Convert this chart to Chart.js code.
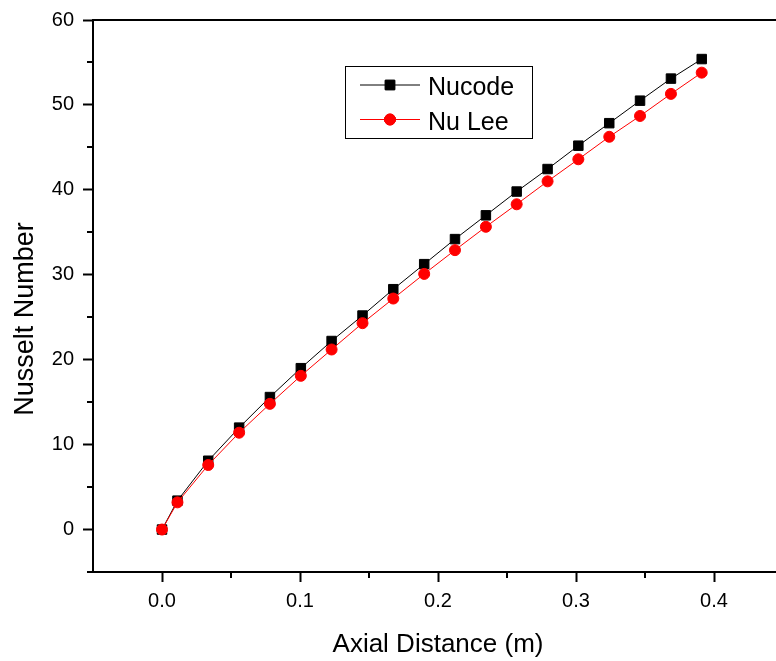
<!DOCTYPE html>
<html>
<head>
<meta charset="utf-8">
<script src="https://cdn.jsdelivr.net/npm/chart.js@4.4.1/dist/chart.umd.min.js"></script>
<style>
  html, body { margin: 0; padding: 0; background: #fff; overflow: hidden; width: 776px; height: 661px; }
  canvas { display: block; }
</style>
</head>
<body>
<canvas id="c" width="783" height="661"></canvas>
<script>
// ---- Data ----
const axialDistance = [0, 0.0112, 0.0335, 0.0559, 0.0782, 0.1006, 0.1229, 0.1453, 0.1676, 0.1900,
                       0.2123, 0.2347, 0.2570, 0.2794, 0.3017, 0.3241, 0.3464, 0.3688, 0.3911];
const nucode = [0, 3.4, 8.1, 12.0, 15.6, 19.0, 22.2, 25.2, 28.3, 31.25,
                34.2, 37.0, 39.8, 42.45, 45.2, 47.85, 50.5, 53.1, 55.4];
const nuLee  = [0, 3.2, 7.6, 11.4, 14.8, 18.1, 21.2, 24.3, 27.2, 30.1,
                32.9, 35.65, 38.3, 41.0, 43.6, 46.25, 48.7, 51.3, 53.8];
const seriesLabels = ['Nucode', 'Nu Lee'];
const xTickValues = [0, 0.1, 0.2, 0.3, 0.4];
const xMinorTicks = [0.05, 0.15, 0.25, 0.35];
const yTickValues = [0, 10, 20, 30, 40, 50, 60];
const yMinorTicks = [-5, 5, 15, 25, 35, 45, 55];
const xAxisTitle = 'Axial Distance (m)';
const yAxisTitle = 'Nusselt Number';

const FONT = '"Liberation Sans", Arial, Helvetica, sans-serif';
Chart.defaults.font.family = FONT;
Chart.defaults.color = '#000';

const toPoints = (ys) => ys.map((y, i) => ({ x: axialDistance[i], y }));

const extras = {
  id: 'extras',
  afterDraw(chart) {
    const { ctx, chartArea: a, scales: { x, y } } = chart;
    ctx.save();
    // top frame line
    ctx.strokeStyle = '#000';
    ctx.lineWidth = 2;
    ctx.beginPath();
    ctx.moveTo(a.left, Math.round(a.top));
    ctx.lineTo(a.right, Math.round(a.top));
    ctx.stroke();
    // minor ticks
    ctx.beginPath();
    yMinorTicks.forEach(v => {
      const py = Math.round(y.getPixelForValue(v));
      ctx.moveTo(a.left - 6, py);
      ctx.lineTo(a.left, py);
    });
    xMinorTicks.forEach(v => {
      const px = Math.round(x.getPixelForValue(v));
      ctx.moveTo(px, a.bottom);
      ctx.lineTo(px, a.bottom + 6);
    });
    ctx.stroke();

    // y-axis title
    ctx.fillStyle = '#000';
    ctx.font = '27px ' + FONT;
    ctx.textAlign = 'center';
    ctx.textBaseline = 'alphabetic';
    ctx.translate(33, 319);
    ctx.rotate(-Math.PI / 2);
    ctx.fillText(yAxisTitle, 0, 0);
    ctx.restore();

    // legend box
    ctx.save();
    const bx = 345.5, by = 66.5, bw = 187, bh = 72;
    ctx.fillStyle = '#fff';
    ctx.fillRect(bx, by, bw, bh);
    ctx.strokeStyle = '#000';
    ctx.lineWidth = 1;
    ctx.strokeRect(bx, by, bw, bh);
    const rows = [85, 119.5];
    chart.data.datasets.forEach((ds, i) => {
      const ry = rows[i];
      ctx.strokeStyle = ds.borderColor;
      ctx.lineWidth = 1;
      ctx.beginPath();
      ctx.moveTo(360, ry);
      ctx.lineTo(420, ry);
      ctx.stroke();
      Chart.helpers.drawPoint(ctx, {
        pointStyle: ds.pointStyle,
        radius: ds.pointRadius,
        borderWidth: ds.pointBorderWidth,
        rotation: 0
      }, 390, ry);
      ctx.fillStyle = ds.pointBackgroundColor;
      ctx.strokeStyle = ds.pointBorderColor;
      ctx.lineWidth = ds.pointBorderWidth;
      ctx.fill();
      ctx.stroke();
      ctx.fillStyle = '#000';
      ctx.font = '25px ' + FONT;
      ctx.textAlign = 'left';
      ctx.textBaseline = 'alphabetic';
      ctx.fillText(ds.label, 428, ry + 10);
    });
    ctx.restore();
  }
};

new Chart(document.getElementById('c'), {
  type: 'line',
  data: {
    datasets: [
      {
        label: seriesLabels[0],
        data: toPoints(nucode),
        borderColor: '#000000',
        backgroundColor: '#000000',
        borderWidth: 1,
        pointStyle: 'rect',
        pointRadius: 6.7,
        pointBorderWidth: 1,
        pointBackgroundColor: '#000000',
        pointBorderColor: '#000000',
        tension: 0,
        order: 2
      },
      {
        label: seriesLabels[1],
        data: toPoints(nuLee),
        borderColor: '#ff0000',
        backgroundColor: '#ff0000',
        borderWidth: 1,
        pointStyle: 'circle',
        pointRadius: 5.5,
        pointBorderWidth: 1,
        pointBackgroundColor: '#ff0000',
        pointBorderColor: '#ff0000',
        tension: 0,
        order: 1
      }
    ]
  },
  options: {
    responsive: false,
    animation: false,
    devicePixelRatio: 1,
    layout: { autoPadding: false, padding: { top: 20, right: 0, bottom: 0, left: 0 } },
    plugins: { legend: { display: false }, tooltip: { enabled: false } },
    scales: {
      x: {
        type: 'linear',
        min: -0.05,
        max: 0.45,
        afterBuildTicks: (s) => { s.ticks = xTickValues.map(v => ({ value: v })); },
        afterFit: (s) => { s.height = 89; s.paddingLeft = 0; s.paddingRight = 0; },
        ticks: {
          callback: (v) => Number(v).toFixed(1),
          font: { size: 20 },
          color: '#000',
          padding: 7,
          maxRotation: 0,
          autoSkip: false
        },
        grid: { drawOnChartArea: false, drawTicks: true, tickLength: 10, tickWidth: 2, tickColor: '#000' },
        border: { display: true, color: '#000', width: 2 },
        title: { display: true, text: xAxisTitle, font: { size: 26 }, color: '#000', padding: { top: 0, bottom: 1 } }
      },
      y: {
        type: 'linear',
        min: -5,
        max: 60,
        afterBuildTicks: (s) => { s.ticks = yTickValues.map(v => ({ value: v })); },
        afterFit: (s) => { s.width = 93; s.paddingTop = 0; s.paddingBottom = 0; },
        ticks: {
          callback: (v) => String(v),
          font: { size: 20 },
          color: '#000',
          padding: 9,
          autoSkip: false
        },
        grid: { drawOnChartArea: false, drawTicks: true, tickLength: 10, tickWidth: 2, tickColor: '#000' },
        border: { display: true, color: '#000', width: 2 },
        title: { display: false }
      }
    }
  },
  plugins: [extras]
});
</script>
</body>
</html>
